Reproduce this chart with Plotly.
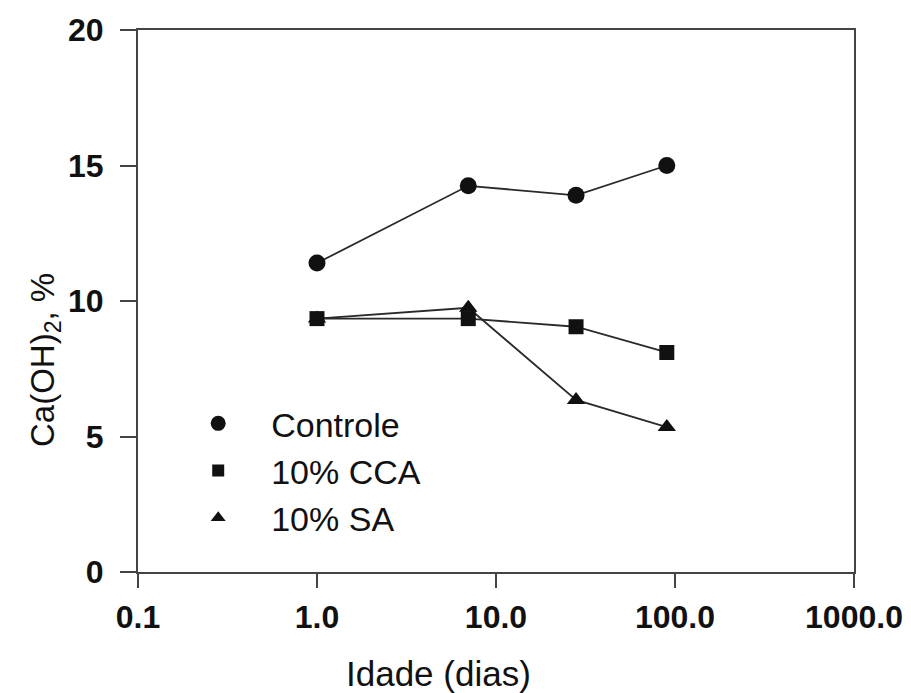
import plotly.graph_objects as go

idade = [1.0, 7.0, 28.0, 90.0]
controle = [11.4, 14.25, 13.9, 15.0]
cca = [9.35, 9.35, 9.05, 8.1]
sa = [9.35, 9.75, 6.35, 5.35]

series_names = ["Controle", "10% CCA", "10% SA"]
x_tickvals = [0.1, 1, 10, 100, 1000]
x_ticktext = ["0.1", "1.0", "10.0", "100.0", "1000.0"]
y_tickvals = [0, 5, 10, 15, 20]

FONT = "Liberation Sans, Arial, sans-serif"
LINE = "#444444"

fig = go.Figure()
symbols = ["circle", "square", "triangle-up"]
sizes = [17, 15, 16]
datas = [controle, cca, sa]
order = [0, 2, 1]
for i in order:
    fig.add_trace(go.Scatter(
        x=idade, y=datas[i], mode="lines+markers", showlegend=False,
        line=dict(color="#2a2a2a", width=1.8),
        marker=dict(symbol=symbols[i], size=sizes[i], color="#111111"),
    ))

leg_sizes = [15, 12, 13]
for i in range(3):
    fig.add_trace(go.Scatter(
        x=[None], y=[None], mode="markers", name=series_names[i],
        legendgroup=series_names[i],
        marker=dict(symbol=symbols[i], size=leg_sizes[i], color="#111111"),
    ))

fig.update_layout(
    width=903, height=685,
    margin=dict(l=130, r=57, t=22, b=121),
    paper_bgcolor="white", plot_bgcolor="white",
    font=dict(family=FONT, color="#111111"),
    legend=dict(
        x=0.038, y=0.327, xanchor="left", yanchor="top",
        bgcolor="rgba(0,0,0,0)", font=dict(size=34, color="#111111"),
        tracegroupgap=0, itemwidth=96,
    ),
    xaxis=dict(
        type="log", range=[-1, 3], tickvals=x_tickvals, ticktext=x_ticktext,
        automargin=False,
        showgrid=False, zeroline=False, showline=True, linecolor=LINE, linewidth=2,
        mirror=True, ticks="outside", ticklen=14, tickwidth=2, tickcolor=LINE,
        ticklabelstandoff=2,
        tickfont=dict(size=32, family=FONT, weight="bold"),
    ),
    yaxis=dict(
        range=[0, 20], tickvals=y_tickvals,
        automargin=False,
        showgrid=False, zeroline=False, showline=True, linecolor=LINE, linewidth=2,
        mirror=True, ticks="outside", ticklen=16, tickwidth=2, tickcolor=LINE,
        ticklabelstandoff=10,
        tickfont=dict(size=32, family=FONT, weight="bold"),
    ),
    annotations=[
        dict(text="Idade (dias)", xref="paper", yref="paper",
             x=(438 - 138) / 716, y=-(673 - 572) / 542, xanchor="center", yanchor="middle",
             showarrow=False, font=dict(size=35, family=FONT)),
        dict(text="Ca(OH)<sub>2</sub>, %", xref="paper", yref="paper",
             x=-(138 - 45) / 716, y=(572 - 360) / 542, xanchor="center", yanchor="middle",
             textangle=-90, showarrow=False, font=dict(size=33, family=FONT)),
    ],
)

fig.write_html("out.html")
